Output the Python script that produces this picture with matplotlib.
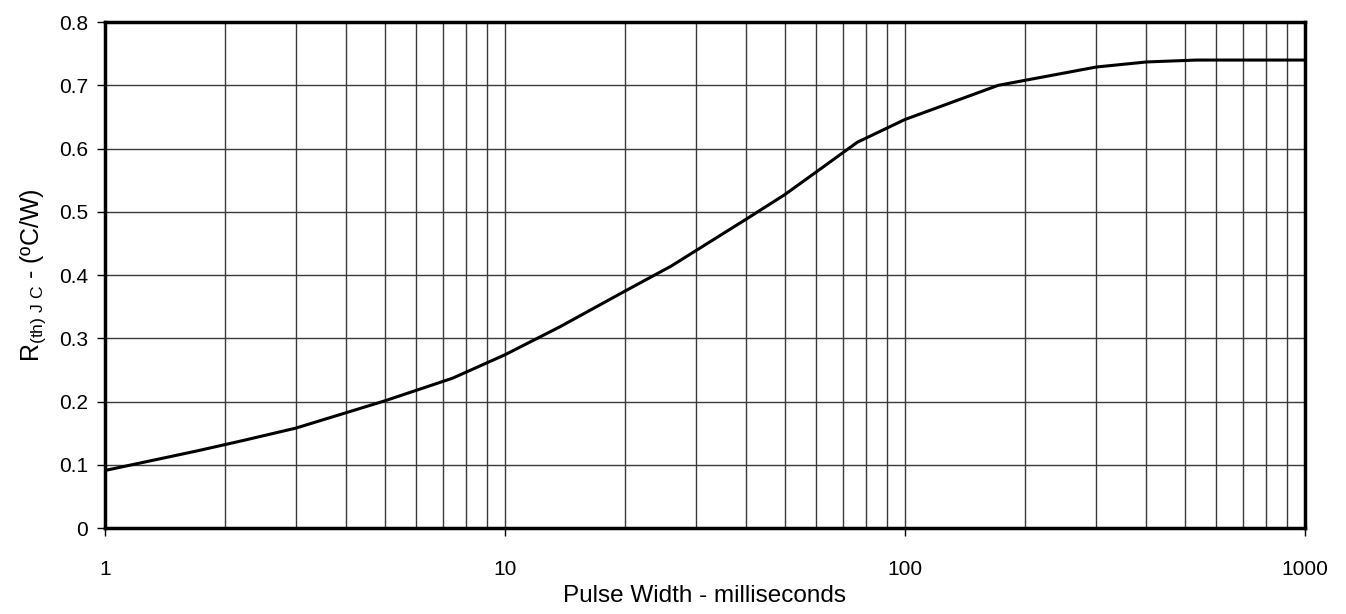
import matplotlib
matplotlib.use("Agg")
import matplotlib.pyplot as plt
from matplotlib.ticker import LogLocator, NullFormatter

# transient thermal impedance curve
pulse_ms = [1, 1.7, 2.2, 3, 5, 7.4, 10, 13.7, 20, 26, 40, 50, 60, 76, 100,
            171, 301, 402, 536, 1000]
rth_jc = [0.091, 0.122, 0.138, 0.158, 0.201, 0.237, 0.274, 0.318, 0.375, 0.414,
          0.488, 0.527, 0.563, 0.61, 0.646, 0.700, 0.729, 0.737, 0.740, 0.740]

x_ticks = [1, 10, 100, 1000]
x_tick_labels = ["1", "10", "100", "1000"]
y_ticks = [0, 0.1, 0.2, 0.3, 0.4, 0.5, 0.6, 0.7, 0.8]
y_tick_labels = ["0", "0.1", "0.2", "0.3", "0.4", "0.5", "0.6", "0.7", "0.8"]

plt.rcParams["font.family"] = ["Liberation Sans", "DejaVu Sans"]
plt.rcParams["mathtext.fontset"] = "custom"
plt.rcParams["mathtext.rm"] = "Liberation Sans"
plt.rcParams["mathtext.it"] = "Liberation Sans"

fig = plt.figure(figsize=(13.46, 6.14), dpi=100)
ax = fig.add_axes([0.078, 0.14, 0.8915, 0.824])

ax.plot(pulse_ms, rth_jc, color="black", linewidth=2.2, zorder=3)

ax.set_xscale("log")
ax.set_xlim(1, 1000)
ax.set_ylim(0, 0.8)

ax.set_xticks(x_ticks)
ax.set_xticklabels(x_tick_labels)
ax.xaxis.set_minor_locator(LogLocator(base=10, subs=range(2, 10)))
ax.xaxis.set_minor_formatter(NullFormatter())
ax.set_yticks(y_ticks)
ax.set_yticklabels(y_tick_labels)

ax.grid(True, which="major", color="#3a3a3a", linewidth=1.0)
ax.grid(True, which="minor", axis="x", color="#3a3a3a", linewidth=1.0)
ax.set_axisbelow(True)

for sp in ax.spines.values():
    sp.set_linewidth(2.5)
    sp.set_color("black")

ax.tick_params(axis="both", which="major", direction="out", length=6,
               width=1, labelsize=15, color="black")
ax.tick_params(axis="x", which="major", pad=17)
ax.tick_params(axis="y", which="major", pad=6)
ax.tick_params(axis="x", which="minor", length=0)

ax.set_xlabel("Pulse Width - milliseconds", fontsize=17.5, labelpad=4)
ax.set_ylabel(r"R$_{\mathrm{(th)\ J\ C}}$ - (ºC/W)", fontsize=18, labelpad=8)

fig.savefig("out.png", dpi=100)
